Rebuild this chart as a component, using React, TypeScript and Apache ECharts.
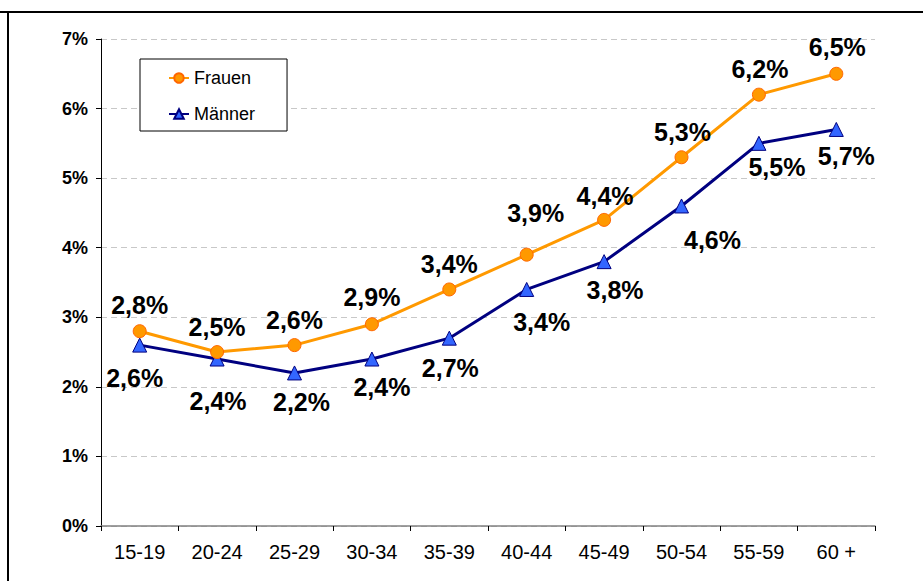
import React, { useEffect, useRef } from "react";
import * as echarts from "echarts";

const categories = ["15-19", "20-24", "25-29", "30-34", "35-39", "40-44", "45-49", "50-54", "55-59", "60 +"];
const frauen = [2.8, 2.5, 2.6, 2.9, 3.4, 3.9, 4.4, 5.3, 6.2, 6.5];
const maenner = [2.6, 2.4, 2.2, 2.4, 2.7, 3.4, 3.8, 4.6, 5.5, 5.7];
const yTicks = [0, 1, 2, 3, 4, 5, 6, 7];

// label offsets (label centre relative to marker), style only
const frauenLabelOffsets = [[0, -26], [0, -25], [0, -25], [0, -27], [0, -25], [9, -42], [1, -24], [1, -25], [1, -26], [1, -27]];
const maennerLabelOffsets = [[-5, 33], [1, 42], [7, 29], [10, 28], [1, 30], [15, 33], [11, 28], [31, 34], [18, 24], [10, 27]];

const fmt = (v: number) => v.toFixed(1).replace(".", ",") + "%";

const FONT = "'Liberation Sans', Arial, sans-serif";

const labelStyle = {
  show: true,
  position: "inside",
  color: "#000",
  fontFamily: FONT,
  fontWeight: "bold",
  fontSize: 25,
};

export default function App() {
  const ref = useRef<HTMLDivElement>(null);
  useEffect(() => {
    if (!ref.current) return;
    const chart = echarts.init(ref.current, undefined, { renderer: "svg" });
    chart.setOption({
      animation: false,
      backgroundColor: "#fff",
      textStyle: { fontFamily: FONT },
      graphic: [
        { type: "line", shape: { x1: 0, y1: 12, x2: 923, y2: 12 }, style: { stroke: "#000", lineWidth: 2 } },
        { type: "line", shape: { x1: 8, y1: 11, x2: 8, y2: 581 }, style: { stroke: "#000", lineWidth: 2 } },
      ],
      grid: { left: 101, right: 48, top: 39, bottom: 55, containLabel: false },
      legend: {
        orient: "vertical",
        left: 140,
        top: 59,
        padding: [10, 32, 8, 28],
        itemGap: 18,
        itemWidth: 20,
        itemHeight: 12,
        itemTextGap: 11,
        backgroundColor: "#fff",
        borderColor: "#000",
        borderWidth: 1,
        borderRadius: 0,
        textStyle: { fontSize: 18, color: "#000", fontFamily: FONT },
        data: ["Frauen", "Männer"],
      },
      xAxis: {
        type: "category",
        data: categories,
        boundaryGap: true,
        axisLine: { lineStyle: { color: "#808080", width: 1.5 } },
        axisTick: { show: true, length: 5, lineStyle: { color: "#000" } },
        axisLabel: { fontSize: 20, color: "#000", margin: 16, fontFamily: FONT },
        splitLine: { show: false },
      },
      yAxis: {
        type: "value",
        min: yTicks[0],
        max: yTicks[yTicks.length - 1],
        interval: 1,
        axisLine: { show: true, lineStyle: { color: "#000", width: 1 } },
        axisTick: { show: true, length: 5, lineStyle: { color: "#000" } },
        axisLabel: { fontSize: 18, fontWeight: "bold", color: "#000", margin: 13, fontFamily: FONT, formatter: "{value}%" },
        splitLine: { show: true, lineStyle: { color: "#c8c8c8", type: [6, 4], width: 1 } },
      },
      series: [
        {
          name: "Frauen",
          type: "line",
          data: frauen.map((v, i) => ({ value: v, label: { offset: frauenLabelOffsets[i] } })),
          symbol: "circle",
          symbolSize: 13,
          lineStyle: { color: "#FF9900", width: 3 },
          itemStyle: { color: "#FF9900", borderColor: "#FF6600", borderWidth: 1 },
          label: { ...labelStyle, formatter: (p: any) => fmt(p.value) },
          z: 3,
        },
        {
          name: "Männer",
          type: "line",
          data: maenner.map((v, i) => ({ value: v, label: { offset: maennerLabelOffsets[i] } })),
          symbol: "triangle",
          symbolSize: 14,
          lineStyle: { color: "#000080", width: 3 },
          itemStyle: { color: "#3366FF", borderColor: "#000080", borderWidth: 1 },
          label: { ...labelStyle, formatter: (p: any) => fmt(p.value) },
          z: 2,
        },
      ],
    });
    return () => chart.dispose();
  }, []);
  return <div ref={ref} style={{ position: "absolute", left: 0, top: 0, width: 923, height: 581 }} />;
}
